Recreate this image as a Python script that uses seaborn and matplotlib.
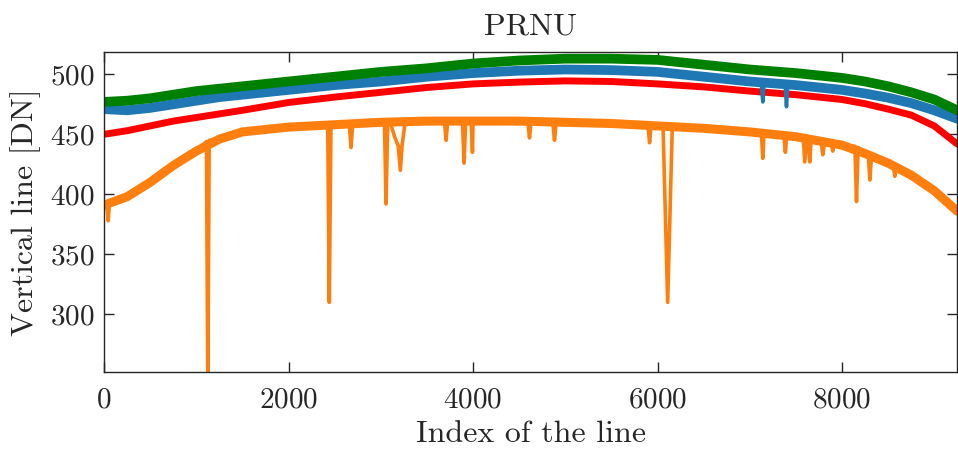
import numpy as np
import pandas as pd
import matplotlib
matplotlib.use("Agg")
import matplotlib.pyplot as plt
import seaborn as sns

# ---------------- data ----------------
base_x = [0, 250, 500, 750, 1000, 1250, 1500, 2000, 2500, 3000, 3500, 4000, 4500,
          5000, 5500, 6000, 6500, 7000, 7500, 8000, 8250, 8500, 8750, 9000, 9248]

green_y = [477, 478, 480, 483, 486, 488, 490, 494, 498, 502, 505, 509, 511.5,
           513, 513, 512, 508, 504, 501, 497, 494, 490, 485, 479, 470]
blue_y = [471, 470, 472, 475, 478, 481, 483, 487, 491, 494, 498, 501, 503,
          504, 503.5, 502, 498, 494, 491, 487, 484, 480.5, 476, 470, 463]
red_y = [450, 453, 457, 461, 464, 467, 470, 476.5, 481, 485, 489, 492, 493.5,
         494.5, 494, 492, 489.5, 486, 483, 479, 475.5, 471, 466, 457, 442]
orange_y = [391, 398, 410, 424, 436, 446, 452, 456, 458, 460, 461, 461, 461,
            460, 459, 457, 455, 452, 448, 441, 434, 426, 416, 403, 386]

# narrow dips (with the neighbouring levels read around them)
orange_spike_x = [30, 45, 60, 1110, 1125, 1140, 2425, 2442, 2460, 2660, 2677, 2695,
                  3040, 3057, 3075, 3110, 3150, 3190, 3212, 3230, 3260,
                  3690, 3708, 3725, 3885, 3903, 3920, 3980, 3994, 4010,
                  4595, 4612, 4630, 4865, 4883, 4900, 5895, 5914, 5930,
                  6060, 6110, 6160, 7125, 7141, 7155, 7370, 7386, 7400,
                  7580, 7596, 7620, 7635, 7650, 7665, 7775, 7792, 7810,
                  7885, 7900, 7915, 8140, 8157, 8175, 8285, 8302, 8320,
                  8555, 8573, 8590]
orange_spike_y = [393, 378, 394, 444, 240, 445, 457, 310, 458, 458, 439, 458,
                  460, 392, 460, 458, 448, 440, 420, 440, 458,
                  461, 445, 461, 461, 426, 461, 461, 435, 461,
                  461, 447, 461, 460, 445, 460, 458, 443, 457,
                  456, 310, 456, 452, 430, 452, 449, 435, 449,
                  447, 427, 446, 446, 427, 445, 443, 433, 443,
                  442, 436, 442, 440, 394, 439, 433, 412, 432,
                  424, 415, 423]

blue_spike_x = [7125, 7141, 7155, 7385, 7398, 7410]
blue_spike_y = [493, 477, 493, 490, 473, 490]

# ---------------- figure ----------------
sns.set_style("ticks")
plt.rcParams["font.family"] = ["cmr10", "DejaVu Serif"]
plt.rcParams["mathtext.fontset"] = "cm"
plt.rcParams["axes.formatter.use_mathtext"] = True
plt.rcParams["axes.unicode_minus"] = False

fig = plt.figure(figsize=(9.58, 4.49), dpi=100)
ax = fig.add_axes([0.1086, 0.1715, 0.8905, 0.7125])

C_BLUE, C_ORANGE, C_GREEN, C_RED = "#1f77b4", "#ff7f0e", "#008000", "#ff0000"


def merged(bx, by, sx, sy):
    df = pd.DataFrame({"x": list(bx) + list(sx), "y": list(by) + list(sy)})
    return df.sort_values("x", kind="stable").reset_index(drop=True)


orange_full = merged(base_x, orange_y, orange_spike_x, orange_spike_y)
blue_full = merged(base_x, blue_y, blue_spike_x, blue_spike_y)

# orange
sns.lineplot(x=base_x, y=orange_y, color=C_ORANGE, lw=6.5, ax=ax, sort=False,
             estimator=None, solid_capstyle="round", solid_joinstyle="round")
sns.lineplot(data=orange_full, x="x", y="y", color=C_ORANGE, lw=2.6, ax=ax,
             sort=False, estimator=None)
# red
sns.lineplot(x=base_x, y=red_y, color=C_RED, lw=5.0, ax=ax, sort=False,
             estimator=None, solid_joinstyle="round")
# blue
sns.lineplot(x=base_x, y=blue_y, color=C_BLUE, lw=7.0, ax=ax, sort=False,
             estimator=None, solid_joinstyle="round")
sns.lineplot(data=blue_full, x="x", y="y", color=C_BLUE, lw=2.6, ax=ax,
             sort=False, estimator=None)
# green
sns.lineplot(x=base_x, y=green_y, color=C_GREEN, lw=7.0, ax=ax, sort=False,
             estimator=None, solid_joinstyle="round")

ax.set_xlim(0, 9248)
ax.set_ylim(252, 518.5)
ax.set_xticks([0, 2000, 4000, 6000, 8000])
ax.set_yticks([300, 350, 400, 450, 500])

for s in ax.spines.values():
    s.set_visible(True)
    s.set_color("#262626")
    s.set_linewidth(1.0)
ax.tick_params(direction="in", length=7, width=1.0, color="#262626",
               top=True, right=True, labelsize=21, labelcolor="#262626", pad=7)
ax.tick_params(axis="x", pad=11)

ax.set_title("PRNU", fontsize=23, color="#262626", pad=13)
ax.set_xlabel("Index of the line", fontsize=23, color="#262626", labelpad=5)
ax.set_ylabel("Vertical line [DN]", fontsize=23, color="#262626", labelpad=6)

fig.savefig("out.png", dpi=100)
